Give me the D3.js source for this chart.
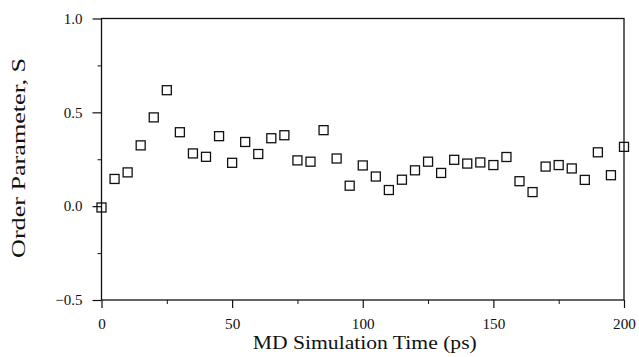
<!DOCTYPE html>
<html><head><meta charset="utf-8">
<script src="https://cdn.jsdelivr.net/npm/d3@7"></script>
<style>body{margin:0;background:#fff}svg{display:block}</style>
</head><body>
<svg id="chart" width="639" height="357"></svg>
<script>
const times = [0,5,10,15,20,25,30,35,40,45,50,55,60,65,70,75,80,85,90,95,100,105,110,115,120,125,130,135,140,145,150,155,160,165,170,175,180,185,190,195,200];
const orderS = [-0.007,0.145,0.18,0.324,0.473,0.618,0.394,0.281,0.263,0.373,0.231,0.342,0.278,0.362,0.378,0.244,0.237,0.405,0.254,0.109,0.217,0.158,0.086,0.141,0.191,0.237,0.177,0.247,0.227,0.233,0.219,0.262,0.133,0.075,0.211,0.219,0.201,0.14,0.287,0.165,0.316];
const xTicks = [0,50,100,150,200];
const xMinor = [25,75,125,175];
const yTicks = [-0.5,0.0,0.5,1.0];
const yMinor = [-0.25,0.25,0.75];
const xTitle = "MD Simulation Time (ps)";
const yTitle = "Order Parameter, S";

const svg = d3.select("#chart");
const L = 101.5, R = 624, T = 18.5, B = 300;
const x = d3.scaleLinear().domain([0,200]).range([L,R]);
const y = d3.scaleLinear().domain([-0.5,1.0]).range([B,T]);
const font = "Liberation Serif, serif";
const ink = "#111";

// frame
svg.append("rect").attr("x",L).attr("y",T).attr("width",R-L).attr("height",B-T)
  .attr("fill","none").attr("stroke",ink).attr("stroke-width",1.3);

// bottom axis
const xa = svg.append("g").attr("transform",`translate(0,${B})`)
  .call(d3.axisBottom(x).tickValues(xTicks).tickSize(8).tickPadding(11).tickFormat(d3.format("d")));
xa.attr("font-family",font).attr("font-size",14);
xa.select(".domain").remove();
xa.selectAll("line").attr("stroke",ink).attr("stroke-width",1.2);
xa.selectAll("text").attr("fill",ink).attr("textLength",d=>String(d).length*7.6).attr("lengthAdjust","spacingAndGlyphs");
const xm = svg.append("g").attr("transform",`translate(0,${B})`)
  .call(d3.axisBottom(x).tickValues(xMinor).tickSize(4).tickFormat(""));
xm.select(".domain").remove();
xm.selectAll("line").attr("stroke",ink).attr("stroke-width",1);

// left axis
const ya = svg.append("g").attr("transform",`translate(${L},0)`)
  .call(d3.axisLeft(y).tickValues(yTicks).tickSize(9).tickPadding(10).tickFormat(d3.format(".1f")));
ya.attr("font-family",font).attr("font-size",15);
ya.select(".domain").remove();
ya.selectAll("line").attr("stroke",ink).attr("stroke-width",1.2);
ya.selectAll("text").attr("fill",ink);
const ym = svg.append("g").attr("transform",`translate(${L},0)`)
  .call(d3.axisLeft(y).tickValues(yMinor).tickSize(4).tickFormat(""));
ym.select(".domain").remove();
ym.selectAll("line").attr("stroke",ink).attr("stroke-width",1);

// points
const s = 9;
svg.append("g").selectAll("rect").data(times).join("rect")
  .attr("x",(d,i)=>x(d)-s/2).attr("y",(d,i)=>y(orderS[i])-s/2)
  .attr("width",s).attr("height",s)
  .attr("fill","none").attr("stroke",ink).attr("stroke-width",1.3);

// titles
svg.append("text").attr("x",(L+R)/2 + 2).attr("y",349).attr("text-anchor","middle")
  .attr("font-family",font).attr("font-size",18).attr("fill",ink)
  .attr("textLength",224).attr("lengthAdjust","spacingAndGlyphs").text(xTitle);
svg.append("text").attr("transform",`translate(25,158) rotate(-90)`)
  .attr("text-anchor","middle").attr("font-family",font).attr("font-size",18).attr("fill",ink)
  .attr("textLength",200).attr("lengthAdjust","spacingAndGlyphs").text(yTitle);
</script>
</body></html>
